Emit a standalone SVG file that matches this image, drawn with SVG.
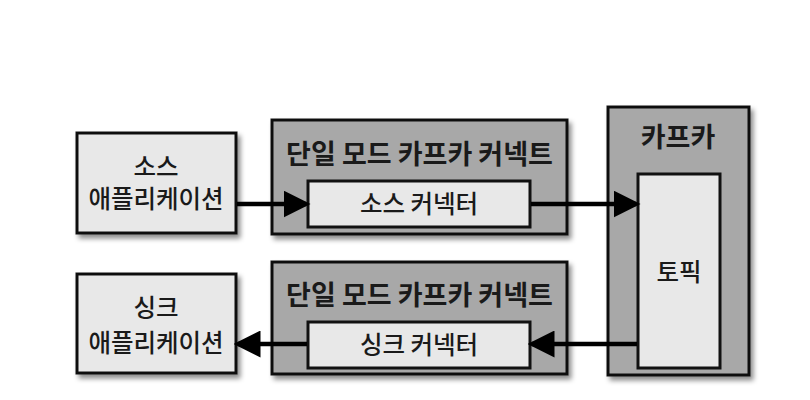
<svg xmlns="http://www.w3.org/2000/svg" width="810" height="400" viewBox="0 0 810 400">
<defs>
<filter id="sh" x="-10%" y="-10%" width="130%" height="130%">
<feDropShadow dx="3" dy="4" stdDeviation="2.5" flood-color="#000" flood-opacity="0.45"/>
</filter>
<marker id="ah" markerWidth="6" markerHeight="6" refX="5" refY="3" orient="auto" markerUnits="strokeWidth" viewBox="0 0 6 6">
<path d="M0,0 L6,3 L0,6 Z" fill="#000"/>
</marker>
<style>
text{font-family:"Noto Sans CJK KR","Noto Sans",sans-serif;fill:#1a1a1a;text-anchor:middle}
.light{fill:#e8e8e8;stroke:#111;stroke-width:3}
.dark{fill:#a8a8a8;stroke:#111;stroke-width:3}
.t{font-size:24.5px;font-weight:500}
.b{font-size:27px;font-weight:bold}
.c{stroke:#000;stroke-width:4.5;fill:none;marker-end:url(#ah)}
</style>
</defs>
<rect width="810" height="400" fill="#fff"/>
<g id="source-app">
<rect class="light" x="77" y="133" width="159" height="100" filter="url(#sh)"/>
<text class="t" x="156" y="176"><tspan x="156" y="176">소스</tspan><tspan x="156" y="208">애플리케이션</tspan></text>
</g>
<g id="sink-app">
<rect class="light" x="77" y="274" width="159" height="99" filter="url(#sh)"/>
<text class="t" x="156" y="317"><tspan x="156" y="317">싱크</tspan><tspan x="156" y="352">애플리케이션</tspan></text>
</g>
<g id="connect-top">
<rect class="dark" x="272" y="120" width="295" height="114" filter="url(#sh)"/>
<text class="b" x="419.5" y="164">단일 모드 카프카 커넥트</text>
</g>
<g id="source-connector">
<rect class="light" x="308" y="181" width="222" height="46"/>
<text class="t" x="419" y="213">소스 커넥터</text>
</g>
<g id="connect-bottom">
<rect class="dark" x="272" y="262" width="295" height="112" filter="url(#sh)"/>
<text class="b" x="419.5" y="305">단일 모드 카프카 커넥트</text>
</g>
<g id="sink-connector">
<rect class="light" x="308" y="322" width="222" height="46"/>
<text class="t" x="419" y="354">싱크 커넥터</text>
</g>
<g id="kafka">
<rect class="dark" x="608" y="107" width="141" height="268" filter="url(#sh)"/>
<text class="b" x="678" y="147">카프카</text>
</g>
<g id="topic">
<rect class="light" x="638" y="174" width="82" height="194"/>
<text class="t" x="679" y="281">토픽</text>
</g>
<g id="connectors">
<line class="c" x1="237" y1="204" x2="306" y2="204"/>
<line class="c" x1="531" y1="204" x2="636" y2="204"/>
<line class="c" x1="637" y1="344" x2="532" y2="344"/>
<line class="c" x1="307" y1="344" x2="238" y2="344"/>
</g>
</svg>
